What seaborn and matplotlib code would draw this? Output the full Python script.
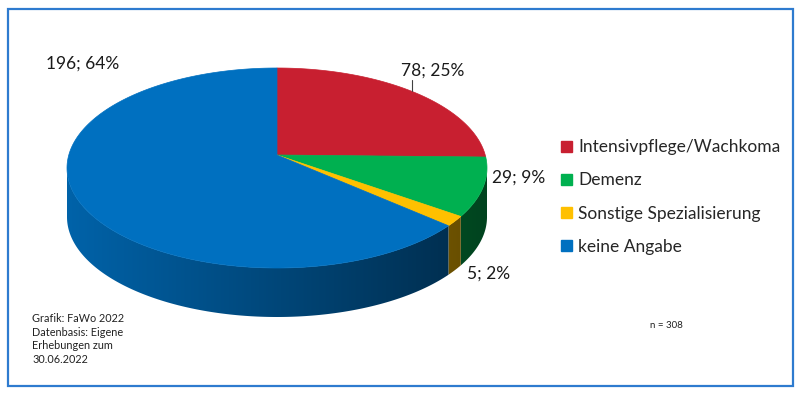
import numpy as np
import matplotlib
matplotlib.use("Agg")
import matplotlib.pyplot as plt
import seaborn as sns
from matplotlib.patches import Polygon, Rectangle, Patch
from matplotlib.colors import to_rgb

sns.set_theme(style="white")
plt.rcParams["font.family"] = ["Lato", "DejaVu Sans"]

# data
categories = ["Intensivpflege/Wachkoma", "Demenz", "Sonstige Spezialisierung", "keine Angabe"]
counts = [78, 29, 5, 196]
slice_colors = ["#C81F30", "#00B050", "#FFC000", "#0070C0"]
n_total = 308

# geometry of the 3d pie (pixels)
CX, CY = 277, 168       # centre of top ellipse
RX, RY = 210, 100
APEX = (277, 155)       # projected pie centre (perspective)
DEPTH = 49


def rim_phi(theta):
    # parametric ellipse angle of the rim point hit by a slice edge at angle theta
    p = np.array([(APEX[0] - CX) / RX, (APEX[1] - CY) / RY])
    q = np.array([np.sin(theta), -np.cos(theta)])
    pq = p @ q
    t = -pq + np.sqrt(pq ** 2 - p @ p + 1)
    nx, ny = p + t * q
    phi = np.arctan2(nx, -ny)
    return phi % (2 * np.pi)


def ellipse_pt(phi, dy=0):
    return CX + RX * np.sin(phi), CY - RY * np.cos(phi) + dy


def wall_gradient(color):
    xs = np.linspace(0, 1, 400)
    f = 0.12 + xs * 0.5
    rgb = np.array(to_rgb(color))[None, :] * (1 - f)[:, None]
    return rgb[None, :, :]


def main():
    fig = plt.figure(figsize=(8, 3.98), dpi=100)
    ax = fig.add_axes([0, 0, 1, 1])
    ax.set_xlim(0, 800)
    ax.set_ylim(398, 0)
    ax.axis("off")

    fracs = np.array(counts) / sum(counts)
    edges = np.concatenate([[0], np.cumsum(fracs)]) * 2 * np.pi
    phis = [rim_phi(e) for e in edges]
    phis[-1] = 2 * np.pi

    # side walls with a left-to-right shading
    for i, col in enumerate(slice_colors):
        lo = max(phis[i], np.pi / 2)
        hi = min(phis[i + 1], 3 * np.pi / 2)
        if hi <= lo:
            continue
        ph = np.linspace(lo, hi, 300)
        top = [ellipse_pt(p) for p in ph]
        bot = [ellipse_pt(p, DEPTH) for p in ph[::-1]]
        wall = Polygon(top + bot, closed=True, facecolor="none", edgecolor="none")
        ax.add_patch(wall)
        im = ax.imshow(wall_gradient(col), extent=(CX - RX, CX + RX, CY + RY + DEPTH + 2, CY - 5),
                       aspect="auto", interpolation="bilinear", zorder=1)
        im.set_clip_path(wall)

    # top faces
    for i, col in enumerate(slice_colors):
        ph = np.linspace(phis[i], phis[i + 1], 200)
        pts = [APEX] + [ellipse_pt(p) for p in ph]
        ax.add_patch(Polygon(pts, closed=True, facecolor=col, edgecolor=col, linewidth=0.5, zorder=2))

    ax.set_xlim(0, 800)
    ax.set_ylim(398, 0)

    # data labels
    labels = [f"{c}; {round(c / n_total * 100)}%" for c in counts]
    label_pos = [(433, 71), (519, 178), (489, 274), (83, 64)]
    for txt, (x, y) in zip(labels, label_pos):
        ax.text(x, y, txt, ha="center", va="center", fontsize=12.5, color="#1a1a1a", zorder=3)
    rim_y = CY - RY * np.sqrt(1 - ((412 - CX) / RX) ** 2)
    ax.plot([412, 412], [80, rim_y], color="#404040", lw=0.8, zorder=3)

    # legend
    handles = [Patch(facecolor=c, edgecolor=c) for c in slice_colors]
    ax.legend(handles, categories, loc="center left", bbox_to_anchor=(561, 197),
              bbox_transform=ax.transData, frameon=False, fontsize=12.5,
              handlelength=0.65, handleheight=0.65, handletextpad=0.35,
              labelspacing=0.98, borderpad=0, borderaxespad=0)

    # notes
    ax.text(32, 313, "Grafik: FaWo 2022\nDatenbasis: Eigene\nErhebungen zum\n30.06.2022",
            ha="left", va="top", fontsize=7.8, linespacing=1.3, color="#222222")
    ax.text(650, 326, "n = 308", ha="left", va="center", fontsize=7, color="#222222")

    # frame
    ax.add_patch(Rectangle((8, 9), 785, 377, fill=False, edgecolor="#2E7BCF", linewidth=1.6, zorder=4))

    fig.savefig("out.png", dpi=100)


if __name__ == "__main__":
    main()
